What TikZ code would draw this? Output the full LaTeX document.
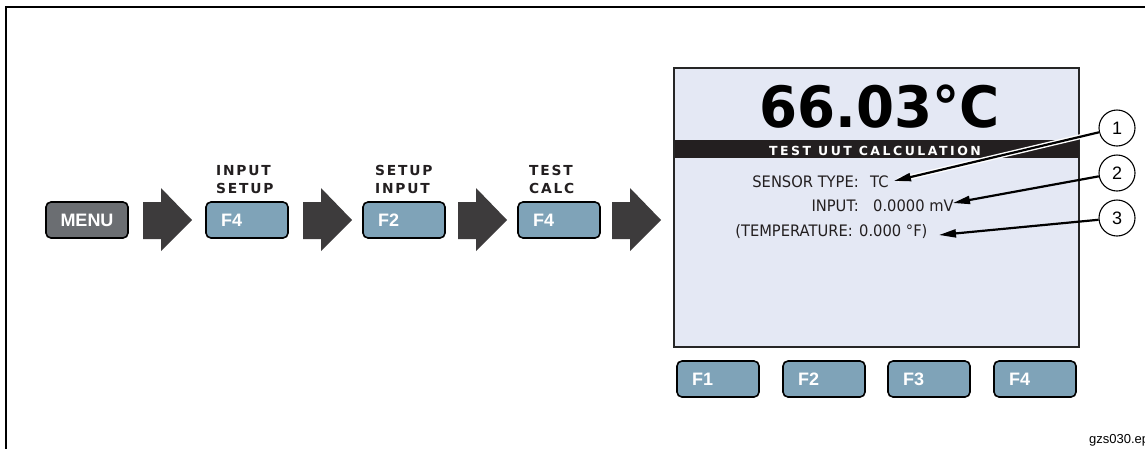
\documentclass[tikz,border=0pt]{standalone}
\usepackage{fontspec}
\usetikzlibrary{arrows.meta}
\setmainfont{Liberation Sans}
\newfontfamily\arialf{Liberation Sans}
\newfontfamily\labf[LetterSpace=13]{DejaVu Sans}
\newfontfamily\barf[LetterSpace=20]{DejaVu Sans}
\newfontfamily\bigf[FakeStretch=0.96]{DejaVu Sans}
\newfontfamily\tahf[FakeStretch=0.93]{DejaVu Sans}
\definecolor{screenfill}{HTML}{E4E8F4}
\definecolor{keyblue}{HTML}{7FA3B8}
\definecolor{menugray}{HTML}{6B6E72}
\definecolor{arrowdark}{HTML}{3D3B3C}
\definecolor{inkblack}{HTML}{231F20}
\tikzset{
  keybase/.style={rectangle, rounded corners=5pt, draw=black, line width=1.6pt,
    minimum height=36pt, inner ysep=0pt, text=white, font=\arialf\bfseries\fontsize{18}{20}\selectfont},
  fkey/.style={keybase, fill=keyblue, text width=52pt, inner xsep=15pt, align=left},
  menukey/.style={keybase, fill=menugray, text width=82pt, inner xsep=0pt, align=center},
  steplabel/.style={anchor=base west, inner sep=0pt, text=inkblack, font=\labf\bfseries\fontsize{13.8}{16}\selectfont},
  rowtext/.style={inner sep=0pt, text=inkblack, font=\tahf\fontsize{15.8}{18}\selectfont},
  callout/.style={circle, draw=black, line width=1.1pt, fill=white, minimum size=36pt, inner sep=0pt,
    font=\arialf\fontsize{18}{20}\selectfont},
  leader/.style={line width=2.2pt, -{Triangle[length=17pt,width=8pt]}},
  halo/.style={line width=5pt, white, shorten >=4pt},
  blockarrow/.pic={\fill[arrowdark] (0,202)--(18,202)--(18,188)--(49,220)--(18,251)--(18,239)--(0,239)--cycle;}
}
\begin{document}
\begin{tikzpicture}[x=1pt,y=-1pt]
\useasboundingbox (0,0) rectangle (1145,448);
% frame
\draw[line width=2pt] (6,449) -- (6,7) -- (1146,7);
% key sequence
\node[menukey] (menu) at (87,220) {MENU};
\pic at (143,0) {blockarrow};
\node[fkey] (k1) at (247,220) {F4};
\node[steplabel] (l1a) at (216,175) {INPUT};
\node[steplabel] (l1b) at (216,193) {SETUP};
\pic at (303,0) {blockarrow};
\node[fkey] (k2) at (404,220) {F2};
\node[steplabel] (l2a) at (375,175) {SETUP};
\node[steplabel] (l2b) at (375,193) {INPUT};
\pic at (458,0) {blockarrow};
\node[fkey] (k3) at (559,220) {F4};
\node[steplabel] (l3a) at (529,175) {TEST};
\node[steplabel] (l3b) at (529,193) {CALC};
\pic at (612,0) {blockarrow};
% screen
\node[rectangle, fill=screenfill, draw=black!85, line width=1.5pt, minimum width=405pt, minimum height=279pt, inner sep=0pt] (scr) at (876.5,207.5) {};
\node[rectangle, fill=inkblack, minimum width=404pt, minimum height=18pt, inner sep=0pt] (bar) at (876.5,149) {};
\node[anchor=base, inner sep=0pt, text=black, font=\bigf\bfseries\fontsize{57}{60}\selectfont] (big) at (879.5,127) {66.03°C};
\node[anchor=base, inner sep=0pt, text=white, font=\barf\bfseries\fontsize{12.5}{14}\selectfont] (bartxt) at (875,155) {TEST UUT CALCULATION};
% rows
\node[rowtext, anchor=base east] (r1l) at (859,187) {SENSOR TYPE:};
\node[rowtext, anchor=base west] (r1v) at (870,187) {TC};
\node[rowtext, anchor=base east] (r2l) at (859,211) {INPUT:};
\node[rowtext, anchor=base west] (r2v) at (873,211) {0.0000 mV};
\node[rowtext, anchor=base east] (r3l) at (853,236) {(TEMPERATURE:};
\node[rowtext, anchor=base west] (r3v) at (859,236) {0.000 °F)};
% soft keys
\node[fkey] (s1) at (718,379) {F1};
\node[fkey] (s2) at (824,379) {F2};
\node[fkey] (s3) at (929,379) {F3};
\node[fkey] (s4) at (1035,379) {F4};
% callouts
\node[callout] (c1) at (1117,128) {1};
\node[callout] (c2) at (1117,173) {2};
\node[callout] (c3) at (1117,218) {3};
\coordinate (t1) at (894,181);
\coordinate (t2) at (953,203);
\coordinate (t3) at (939,235);
\draw[halo] (c1) -- (t1);
\draw[leader] (c1) -- (t1);
\draw[leader] (c2) -- (t2);
\draw[leader] (c3) -- (t3);
% file tag
\node[anchor=base west, inner sep=0pt, font=\arialf\fontsize{13}{15}\selectfont] (tag) at (1089,443) {gzs030.eps};
\end{tikzpicture}
\end{document}
